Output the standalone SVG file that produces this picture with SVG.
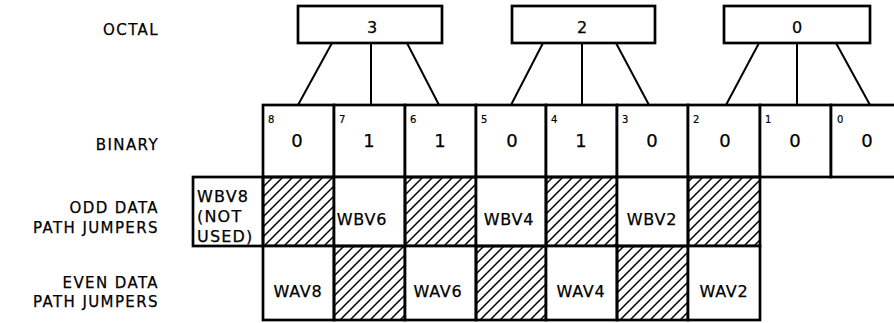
<svg xmlns="http://www.w3.org/2000/svg" width="894" height="323" viewBox="0 0 894 323">
<defs>
<pattern id="hatch" patternUnits="userSpaceOnUse" width="10" height="10">
<path d="M-1,1 L1,-1 M0,10 L10,0 M9,11 L11,9" stroke="#000" stroke-width="1.5"/>
</pattern>
<style>
rect{fill:#fff;stroke:#000;stroke-width:2.7}
rect.h{fill:url(#hatch)}
text{font-family:"DejaVu Sans","Liberation Sans",sans-serif;fill:#000;stroke:#000;stroke-width:0.25}
.lbl{font-size:15px;letter-spacing:1.4px;text-anchor:end}
.oct{font-size:16px;text-anchor:middle}
.bit{font-size:18px;text-anchor:middle}
.sub{font-size:10px;stroke-width:0.2}
.j{font-size:16px;letter-spacing:0.8px;text-anchor:middle}
.jl{font-size:16px;letter-spacing:1.2px}
#connectors line{stroke:#000;stroke-width:2}
</style>
</defs>
<rect x="0" y="0" width="894" height="323" style="fill:#fff;stroke:none"/>

<g id="labels">
<text class="lbl" x="159" y="35">OCTAL</text>
<text class="lbl" x="159" y="150">BINARY</text>
<text class="lbl" x="159" y="213">ODD DATA</text>
<text class="lbl" x="159" y="233">PATH JUMPERS</text>
<text class="lbl" x="159" y="288">EVEN DATA</text>
<text class="lbl" x="159" y="307">PATH JUMPERS</text>
</g>

<g id="connectors">
<line x1="332" y1="43" x2="298" y2="105"/>
<line x1="371" y1="43" x2="371" y2="105"/>
<line x1="407" y1="43" x2="439" y2="105"/>
<line x1="543" y1="43" x2="511" y2="105"/>
<line x1="582" y1="43" x2="582" y2="105"/>
<line x1="616" y1="43" x2="649" y2="105"/>
<line x1="759" y1="43" x2="726" y2="105"/>
<line x1="797" y1="43" x2="797" y2="105"/>
<line x1="836" y1="43" x2="870" y2="105"/>
</g>

<g id="octal-3"><rect x="298" y="6" width="144" height="37"/><text class="oct" x="372" y="33">3</text></g>
<g id="octal-2"><rect x="512" y="6" width="143" height="37"/><text class="oct" x="582" y="33">2</text></g>
<g id="octal-0"><rect x="724" y="6" width="146" height="37"/><text class="oct" x="797" y="33">0</text></g>

<g id="bit-8"><rect x="263" y="105" width="71" height="72"/><text class="sub" x="268" y="123">8</text><text class="bit" x="297" y="147">0</text></g>
<g id="bit-7"><rect x="334" y="105" width="71" height="72"/><text class="sub" x="339" y="123">7</text><text class="bit" x="369" y="147">1</text></g>
<g id="bit-6"><rect x="405" y="105" width="71" height="72"/><text class="sub" x="410" y="123">6</text><text class="bit" x="440" y="147">1</text></g>
<g id="bit-5"><rect x="476" y="105" width="70" height="72"/><text class="sub" x="481" y="123">5</text><text class="bit" x="512" y="147">0</text></g>
<g id="bit-4"><rect x="546" y="105" width="71" height="72"/><text class="sub" x="551" y="123">4</text><text class="bit" x="581" y="147">1</text></g>
<g id="bit-3"><rect x="617" y="105" width="71" height="72"/><text class="sub" x="622" y="123">3</text><text class="bit" x="652" y="147">0</text></g>
<g id="bit-2"><rect x="688" y="105" width="72" height="72"/><text class="sub" x="693" y="123">2</text><text class="bit" x="725" y="147">0</text></g>
<g id="bit-1"><rect x="760" y="105" width="71" height="72"/><text class="sub" x="765" y="123">1</text><text class="bit" x="795" y="147">0</text></g>
<g id="bit-0"><rect x="831" y="105" width="70" height="72"/><text class="sub" x="837" y="123">0</text><text class="bit" x="867" y="147">0</text></g>

<g id="wbv8"><rect x="193" y="177" width="70" height="69"/>
<text class="jl" x="197" y="202">WBV8</text><text class="jl" x="197" y="222">(NOT</text><text class="jl" x="197" y="242">USED)</text></g>
<g id="odd-h8"><rect class="h" x="263" y="177" width="71" height="69"/></g>
<g id="wbv6"><rect x="334" y="177" width="71" height="69"/><text class="j" x="362" y="225">WBV6</text></g>
<g id="odd-h6"><rect class="h" x="405" y="177" width="71" height="69"/></g>
<g id="wbv4"><rect x="476" y="177" width="70" height="69"/><text class="j" x="509" y="225">WBV4</text></g>
<g id="odd-h4"><rect class="h" x="546" y="177" width="71" height="69"/></g>
<g id="wbv2"><rect x="617" y="177" width="71" height="69"/><text class="j" x="652" y="225">WBV2</text></g>
<g id="odd-h2"><rect class="h" x="688" y="177" width="72" height="69"/></g>

<g id="wav8"><rect x="263" y="246" width="71" height="74"/><text class="j" x="298" y="297">WAV8</text></g>
<g id="even-h8"><rect class="h" x="334" y="246" width="71" height="74"/></g>
<g id="wav6"><rect x="405" y="246" width="71" height="74"/><text class="j" x="438" y="297">WAV6</text></g>
<g id="even-h6"><rect class="h" x="476" y="246" width="70" height="74"/></g>
<g id="wav4"><rect x="546" y="246" width="71" height="74"/><text class="j" x="581" y="297">WAV4</text></g>
<g id="even-h4"><rect class="h" x="617" y="246" width="71" height="74"/></g>
<g id="wav2"><rect x="688" y="246" width="72" height="74"/><text class="j" x="724" y="297">WAV2</text></g>
</svg>
